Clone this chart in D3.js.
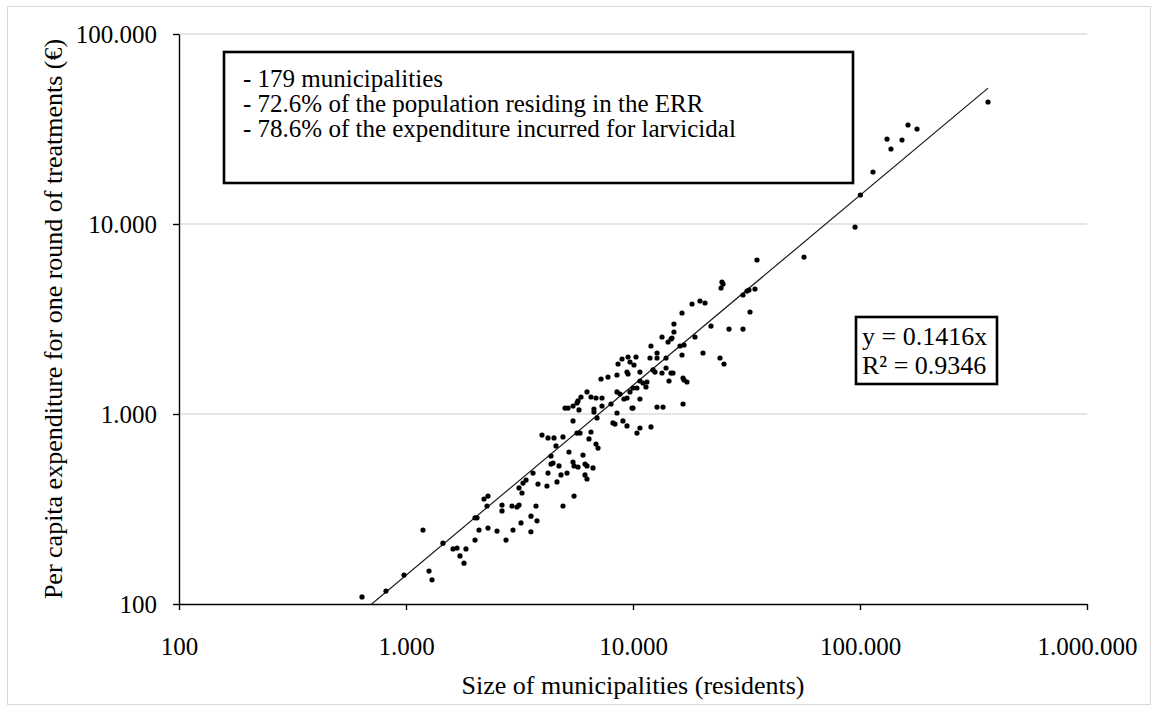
<!DOCTYPE html>
<html>
<head>
<meta charset="utf-8">
<script src="https://cdn.jsdelivr.net/npm/d3@7"></script>
<style>
  body { margin: 0; background: #fff; }
  svg { display: block; }
  text { font-family: "Liberation Serif", "Times New Roman", serif; fill: #000; }
</style>
</head>
<body>
<svg id="chart" width="1157" height="713"></svg>
<script>
// Municipality size (residents) and per capita cost of one treatment round (€)
const residents = [
  640, 816, 980, 1188, 1263, 1302, 1455,
  1611, 1678, 1837, 1729, 1801, 2014, 2097, 2297, 2517, 2758, 2960, 3211, 3776, 3550,
  7760, 6270, 6530, 6870, 5900, 5725, 5667, 5442, 5017, 5172, 5780, 6730, 6730, 5442, 6940,
  5667, 5843, 6530, 3972, 4222, 4487, 4916, 4579, 6400, 6870, 7014, 5224, 4352, 6022, 4442,
  4352, 4720, 5442, 5500, 5725, 6145, 6270, 6665, 3627, 4222, 4817, 5120, 6145, 6270, 3379,
  3277, 3815, 4178, 4624, 3147, 3243, 5500, 2206, 2297, 2274, 2648, 2648, 2931, 3083, 3147,
  3738, 4916, 3553, 2014, 2055,
  7300, 7300, 8000, 7230, 8500, 8500, 8765, 9410, 9120, 10730, 9700, 10000, 10410, 11410,
  10730, 11070, 11520, 16610, 16780, 17290, 14410, 14700, 15000, 13420, 13980, 12250, 12500,
  10730, 9410, 9510, 10100, 8590, 8945, 9510, 9700, 10310, 11880, 12760, 13980, 12760, 16440,
  16110, 16780, 12000, 13420, 14270, 14700, 14850, 15150, 15150, 16440, 9900, 10000, 12760,
  13560, 16610, 8500, 8160, 8330, 9030, 9410, 12000, 10730, 10410,
  35180, 24660, 24920, 24420, 30520, 31780, 32430, 34460, 19720, 20760, 18200, 32770, 22060,
  26480, 30520, 18750, 20340, 24170, 25170, 366400, 162700, 178300, 131500, 153100, 136900,
  114100, 100400, 95100, 56670
];
const expenditure = [
  109, 117, 142, 245, 149, 134, 209,
  195, 197, 195, 179, 164, 217, 245, 251, 242, 217, 245, 267, 274, 240,
  1565, 1306, 1229, 1214, 1229, 1171, 1143, 1102, 1075, 1075, 1050, 1062, 1024, 919, 953,
  794, 794, 804, 775, 748, 748, 757, 679, 739, 695, 662, 631, 601, 608, 552,
  545, 533, 559, 533, 526, 545, 533, 520, 489, 489, 478, 489, 478, 455, 449,
  433, 428, 418, 439, 408, 384, 370, 357, 370, 328, 332, 309, 328, 324, 332,
  328, 328, 290, 284, 284,
  1214, 1102, 1129, 1528, 1604, 1306, 1274, 1214, 1199, 1199, 1306, 1370, 1370, 1387,
  1492, 1456, 1474, 1547, 1510, 1474, 1492, 1644, 1644, 1644, 1746, 1705, 1663,
  1663, 1663, 1624, 1811, 1833, 1948, 1995, 1878, 1995, 1971, 1971, 1971, 2094, 2044,
  2280, 2307, 2280, 2543, 2393, 2482, 2512, 2702, 2977, 3401, 1075, 1075, 1088,
  1088, 1129, 1012, 897, 885, 919, 865, 855, 844, 794,
  6465, 4950, 4830, 4603, 4230, 4437, 4494, 4550, 3933, 3840, 3793, 3442, 2904,
  2800, 2800, 2543, 2094, 1971, 1833, 43870, 33200, 31620, 28000, 27670, 24820,
  18780, 14210, 9640, 6700
];

const xTickValues = [100, 1000, 10000, 100000, 1000000];
const yTickValues = [100, 1000, 10000, 100000];

// Linear fit through the origin
const slope = 0.1416;
const rSquared = 0.9346;

const noteLines = [
  "- 179 municipalities",
  "- 72.6% of the population residing in the ERR",
  "- 78.6% of the expenditure incurred for larvicidal"
];
const xTitle = "Size of municipalities (residents)";
const yTitle = "Per capita expenditure for one round of treatments (€)";

const svg = d3.select("#chart");

const x = d3.scaleLog().domain([100, 1000000]).range([179, 1087]);
const y = d3.scaleLog().domain([100, 100000]).range([604, 34]);

const locale = d3.formatLocale({ decimal: ",", thousands: ".", grouping: [3], currency: ["€", ""] });
const fmt = locale.format(",d");

// Outer chart frame
svg.append("rect")
  .attr("x", 7.5).attr("y", 6.5)
  .attr("width", 1143).attr("height", 698)
  .attr("fill", "#fff").attr("stroke", "#d9d9d9").attr("stroke-width", 1);

// Horizontal gridlines
svg.append("g")
  .selectAll("line")
  .data(yTickValues.slice(1))
  .join("line")
  .attr("x1", x.range()[0]).attr("x2", x.range()[1])
  .attr("y1", d => y(d)).attr("y2", d => y(d))
  .attr("stroke", "#dcdcdc").attr("stroke-width", 1.3);

// Axes
const xAxis = d3.axisBottom(x)
  .tickValues(xTickValues).tickFormat(fmt)
  .tickSize(6).tickSizeOuter(0).tickPadding(27);
const yAxis = d3.axisLeft(y)
  .tickValues(yTickValues).tickFormat(fmt)
  .tickSize(6).tickSizeOuter(0).tickPadding(16);

function styleAxis(g) {
  g.attr("font-family", null).attr("font-size", null);
  g.select(".domain").attr("stroke", "#000").attr("stroke-width", 1.4);
  g.selectAll(".tick line").attr("stroke", "#000").attr("stroke-width", 1.4);
  g.selectAll(".tick text").style("font-size", "25px").attr("fill", "#000");
}

svg.append("g").attr("transform", "translate(0,604)").call(xAxis).call(styleAxis);
svg.append("g").attr("transform", "translate(179,0)").call(yAxis).call(styleAxis);

// Trend line, clipped to the plotting area
svg.append("clipPath").attr("id", "plot-clip")
  .append("rect")
  .attr("x", x.range()[0]).attr("y", y.range()[1])
  .attr("width", x.range()[1] - x.range()[0])
  .attr("height", y.range()[0] - y.range()[1]);

const fitX = d3.extent(residents);
svg.append("path")
  .attr("clip-path", "url(#plot-clip)")
  .attr("d", d3.line().x(d => x(d)).y(d => y(slope * d))(fitX))
  .attr("fill", "none").attr("stroke", "#1a1a1a").attr("stroke-width", 1.2);

// Municipalities
svg.append("g")
  .selectAll("circle")
  .data(residents.map((r, i) => [r, expenditure[i]]))
  .join("circle")
  .attr("cx", d => x(d[0])).attr("cy", d => y(d[1]))
  .attr("r", 2.6).attr("fill", "#000");

// Summary box
const note = svg.append("g");
note.append("rect")
  .attr("x", 224).attr("y", 52).attr("width", 629).attr("height", 131)
  .attr("fill", "#fff").attr("stroke", "#000").attr("stroke-width", 2.6);
note.selectAll("text").data(noteLines).join("text")
  .attr("x", 243).attr("y", (d, i) => 87 + i * 25)
  .style("font-size", "25px")
  .text(d => d);

// Regression equation box
const eq = svg.append("g");
eq.append("rect")
  .attr("x", 856).attr("y", 317).attr("width", 141).attr("height", 67)
  .attr("fill", "#fff").attr("stroke", "#000").attr("stroke-width", 2.6);
eq.append("text").attr("x", 862).attr("y", 345).style("font-size", "26px")
  .text(`y = ${slope}x`);
eq.append("text").attr("x", 862).attr("y", 374).style("font-size", "26px")
  .text(`R² = ${rSquared}`);

// Axis titles
svg.append("text")
  .attr("x", (x.range()[0] + x.range()[1]) / 2).attr("y", 694)
  .attr("text-anchor", "middle").style("font-size", "26px")
  .text(xTitle);
svg.append("text")
  .attr("transform", `translate(62,${(y.range()[0] + y.range()[1]) / 2}) rotate(-90)`)
  .attr("text-anchor", "middle").style("font-size", "26px")
  .text(yTitle);
</script>
</body>
</html>
